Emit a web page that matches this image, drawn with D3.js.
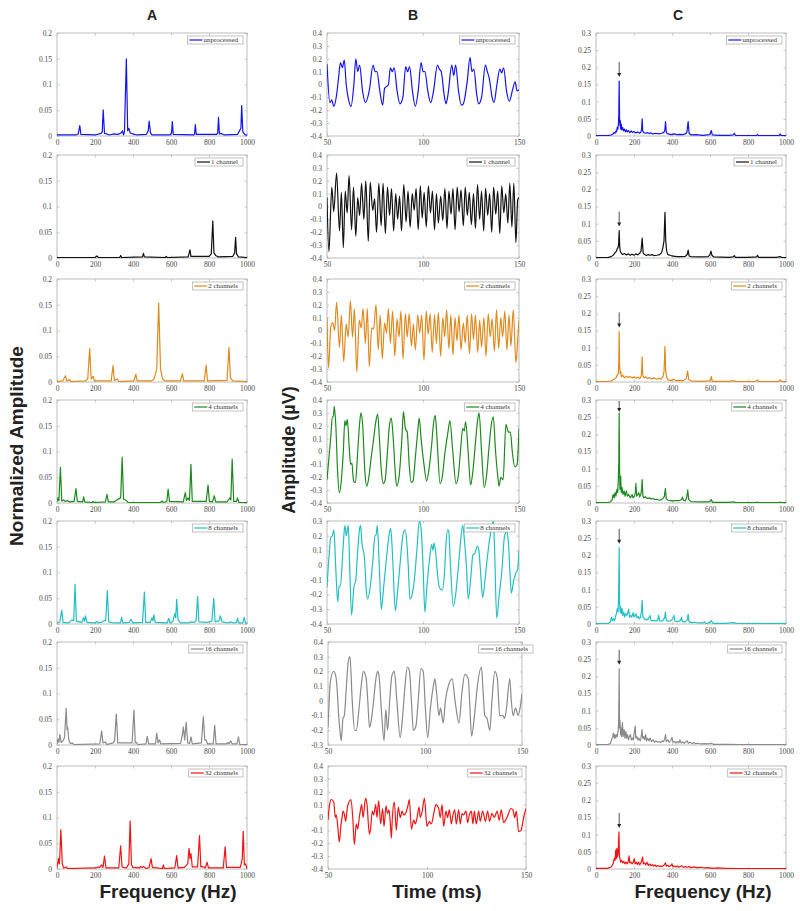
<!DOCTYPE html>
<html><head><meta charset="utf-8">
<script src="https://cdn.jsdelivr.net/npm/d3@7"></script>
<style>body{margin:0;background:#fff}svg{display:block}</style>
</head><body>
<script>
// ---------------- DATA ----------------
const columnTitles = ["A","B","C"];
const seriesLabels = ["unprocessed","1 channel","2 channels","4 channels","8 channels","16 channels","32 channels"];
const seriesColors = ["#1414f0","#111111","#e0891c","#1c8a1c","#22bfc4","#8a8a8a","#f01414"];

const freqTicks = [0,200,400,600,800,1000];
const timeTicks = [50,100,150];
const ampTicksA = [0,0.05,0.1,0.15,0.2];
const ampTicksC = [0,0.05,0.1,0.15,0.2,0.25,0.3];
const timeYDomains = [[-0.4,0.4],[-0.4,0.4],[-0.4,0.4],[-0.4,0.4],[-0.4,0.3],[-0.3,0.4],[-0.4,0.4]];

// Column A: spectra [Hz, normalized amplitude]
const specA_unprocessed = [[0,0.002],[100,0.002],[112,0.004],[120,0.02],[126,0.003],[200,0.002],[232,0.005],[238,0.008],[243,0.051],[250,0.005],[262,0.004],[275,0.002],[300,0.004],[320,0.003],[338,0.006],[345,0.01],[350,0.002],[355,0.008],[365,0.15],[372,0.01],[378,0.015],[385,0.006],[400,0.004],[420,0.002],[470,0.003],[480,0.01],[485,0.029],[492,0.006],[500,0.002],[595,0.002],[603,0.006],[607,0.028],[612,0.003],[720,0.002],[724,0.004],[728,0.022],[733,0.003],[840,0.003],[846,0.006],[850,0.036],[855,0.004],[865,0.005],[880,0.002],[950,0.003],[960,0.01],[968,0.015],[972,0.059],[978,0.008],[990,0.002],[1000,0.002]];
const specA_1ch = [[0,0.001],[200,0.001],[210,0.004],[218,0.001],[330,0.001],[335,0.005],[340,0.001],[450,0.002],[455,0.009],[460,0.002],[570,0.001],[575,0.003],[580,0.001],[690,0.002],[696,0.01],[700,0.016],[705,0.003],[800,0.003],[812,0.008],[820,0.072],[826,0.01],[835,0.005],[850,0.002],[925,0.003],[935,0.01],[940,0.04],[945,0.008],[955,0.002],[1000,0.001]];
const specA_2ch = [[0,0.001],[30,0.002],[45,0.012],[52,0.002],[65,0.005],[72,0.001],[150,0.002],[162,0.006],[172,0.065],[180,0.006],[190,0.011],[197,0.002],[285,0.002],[295,0.032],[302,0.003],[318,0.006],[325,0.001],[405,0.002],[415,0.015],[422,0.002],[495,0.002],[510,0.005],[525,0.025],[535,0.153],[545,0.025],[556,0.006],[570,0.002],[650,0.002],[660,0.016],[667,0.002],[775,0.002],[785,0.033],[792,0.002],[895,0.003],[905,0.067],[913,0.008],[925,0.002],[1000,0.001]];
const specA_4ch = [[0,0.003],[5,0.01],[10,0.004],[18,0.069],[25,0.004],[35,0.006],[45,0.003],[55,0.005],[65,0.002],[90,0.003],[100,0.028],[107,0.003],[135,0.002],[140,0.012],[146,0.002],[185,0.001],[190,0.003],[195,0.001],[255,0.002],[263,0.017],[270,0.002],[300,0.002],[315,0.006],[325,0.008],[335,0.01],[343,0.089],[350,0.008],[360,0.006],[375,0.001],[545,0.001],[552,0.004],[560,0.001],[578,0.003],[585,0.027],[592,0.003],[665,0.002],[675,0.02],[682,0.005],[690,0.01],[697,0.005],[705,0.075],[712,0.003],[785,0.003],[795,0.035],[802,0.003],[818,0.002],[828,0.014],[835,0.002],[895,0.002],[910,0.01],[915,0.006],[922,0.085],[930,0.003],[945,0.003],[950,0.01],[958,0.001],[1000,0.001]];
const specA_8ch = [[0,0.002],[15,0.004],[25,0.027],[32,0.003],[60,0.002],[80,0.008],[88,0.006],[95,0.077],[102,0.005],[130,0.003],[140,0.012],[145,0.005],[150,0.016],[158,0.003],[200,0.002],[210,0.005],[218,0.002],[240,0.004],[248,0.007],[256,0.006],[265,0.065],[272,0.004],[300,0.002],[335,0.002],[340,0.013],[347,0.002],[380,0.003],[390,0.009],[398,0.002],[450,0.003],[460,0.062],[467,0.003],[490,0.003],[500,0.012],[505,0.006],[510,0.018],[517,0.003],[580,0.002],[588,0.011],[595,0.002],[610,0.005],[620,0.02],[625,0.012],[630,0.048],[637,0.008],[650,0.002],[695,0.002],[700,0.004],[720,0.003],[732,0.006],[740,0.054],[747,0.004],[790,0.003],[800,0.004],[815,0.005],[825,0.05],[832,0.004],[852,0.006],[860,0.016],[868,0.004],[905,0.002],[910,0.004],[930,0.002],[945,0.003],[950,0.011],[957,0.002],[978,0.002],[985,0.013],[992,0.002],[1000,0.001]];
const specA_16ch = [[0,0.003],[5,0.012],[10,0.005],[15,0.02],[22,0.005],[32,0.008],[40,0.015],[48,0.071],[53,0.03],[56,0.035],[62,0.01],[70,0.003],[80,0.004],[90,0.001],[225,0.002],[235,0.027],[242,0.004],[255,0.006],[262,0.001],[295,0.004],[303,0.008],[312,0.06],[320,0.004],[395,0.004],[405,0.068],[412,0.004],[418,0.005],[425,0.001],[468,0.002],[475,0.017],[482,0.002],[518,0.002],[525,0.023],[532,0.004],[540,0.01],[547,0.002],[650,0.003],[660,0.02],[665,0.035],[672,0.01],[680,0.044],[688,0.004],[698,0.003],[705,0.016],[712,0.002],[760,0.004],[770,0.055],[778,0.01],[785,0.01],[792,0.002],[822,0.002],[830,0.038],[837,0.002],[890,0.002],[900,0.005],[905,0.002],[915,0.008],[922,0.002],[948,0.002],[955,0.016],[962,0.001],[1000,0.001]];
const specA_32ch = [[0,0.003],[8,0.02],[12,0.01],[15,0.025],[20,0.076],[24,0.045],[28,0.01],[35,0.002],[48,0.004],[55,0.001],[205,0.002],[215,0.004],[225,0.003],[235,0.008],[242,0.003],[250,0.025],[258,0.002],[325,0.002],[335,0.045],[342,0.005],[350,0.003],[365,0.002],[378,0.01],[385,0.093],[392,0.008],[400,0.003],[435,0.002],[440,0.005],[450,0.003],[455,0.005],[470,0.001],[485,0.003],[495,0.02],[502,0.003],[555,0.001],[560,0.008],[565,0.001],[620,0.002],[630,0.026],[637,0.002],[670,0.003],[688,0.01],[695,0.04],[700,0.02],[705,0.03],[712,0.004],[740,0.004],[750,0.065],[757,0.004],[765,0.005],[780,0.002],[790,0.013],[797,0.002],[875,0.002],[885,0.043],[892,0.003],[965,0.003],[975,0.02],[980,0.073],[986,0.008],[992,0.01],[1000,0.001]];

// Column B: time signals [ms, µV]
const timeB_unprocessed = [[50,0.16],[51.5,-0.14],[52.5,-0.12],[53.5,-0.17],[55,-0.08],[56,0.05],[57,0.17],[58,0.13],[59,0.19],[60,0.0],[61,-0.1],[62.5,-0.17],[64,0.0],[65,0.2],[66,0.1],[67,0.15],[68.5,-0.05],[70,-0.14],[72,-0.05],[74,0.15],[75,0.1],[76,0.1],[77.5,-0.05],[79,-0.16],[80,-0.03],[82,0.0],[83,0.13],[84,0.1],[85,0.13],[86.5,-0.05],[88,-0.15],[89.5,-0.1],[91,0.14],[92,0.1],[93,0.14],[94.5,-0.05],[96,-0.17],[97.5,-0.05],[99,0.17],[100,0.1],[101,0.1],[102.5,-0.05],[104,-0.14],[105.5,-0.05],[107.5,0.15],[108.5,0.12],[109.5,0.1],[111,-0.08],[112,-0.15],[113,-0.08],[115,0.15],[116,0.07],[117,0.15],[118.5,-0.05],[120,-0.16],[121,-0.15],[123,0.02],[124.5,0.21],[125.5,0.1],[126.5,0.12],[128,-0.08],[129,-0.15],[130.5,-0.1],[132.5,0.15],[133.5,0.1],[134.5,0.05],[136,-0.1],[137,-0.14],[138.5,0.0],[140,0.12],[141,0.09],[142,0.13],[143.5,-0.05],[145,-0.13],[146.5,-0.05],[148,0.02],[149,-0.05],[150,-0.04]];
const timeB_1ch = [[50,0.07],[51,-0.35],[52.5,0.15],[53.5,-0.04],[55,0.26],[56.5,-0.19],[57.5,0.11],[58.5,-0.32],[59.5,0.12],[60.5,-0.05],[61.5,0.24],[62.8,-0.18],[63.8,0.15],[65,-0.23],[66,0.07],[67,-0.07],[68,0.18],[69.2,-0.1],[70.2,0.2],[71.5,-0.27],[72.5,0.19],[73.8,-0.03],[74.8,0.06],[75.8,-0.2],[77,0.18],[78.2,-0.15],[79.2,0.18],[80.4,-0.21],[81.5,0.15],[82.6,-0.07],[83.6,0.14],[84.7,-0.19],[85.8,0.1],[86.8,-0.1],[87.8,0.08],[88.8,-0.19],[90,0.17],[91.2,-0.12],[92.2,0.12],[93.3,-0.16],[94.4,0.1],[95.4,-0.03],[96.4,0.14],[97.5,-0.18],[98.6,0.16],[99.6,-0.09],[100.6,0.11],[101.7,-0.16],[102.8,0.16],[103.9,-0.05],[104.9,0.12],[106,-0.18],[107,0.1],[108,-0.13],[109.2,0.08],[110.3,-0.11],[111.4,0.14],[112.5,-0.17],[113.5,0.12],[114.6,-0.06],[115.6,0.14],[116.7,-0.18],[117.8,0.15],[118.8,-0.04],[119.8,0.13],[121,-0.15],[122,0.15],[123.1,-0.07],[124.1,0.11],[125.2,-0.14],[126.3,0.1],[127.3,-0.17],[128.4,0.17],[129.5,-0.1],[130.5,0.12],[131.6,-0.19],[132.6,0.14],[133.7,-0.07],[134.7,0.1],[135.8,-0.2],[136.8,0.15],[137.9,-0.06],[138.9,0.12],[140,-0.21],[141,0.16],[142.1,-0.05],[143.1,0.1],[144.2,-0.13],[145.2,0.18],[146.3,-0.16],[147.3,0.18],[148.4,-0.28],[149.3,0.05],[150,0.07]];
const timeB_2ch = [[50,0.1],[50.8,-0.29],[52,0.03],[53,0.06],[54,0.0],[55,0.22],[56.5,-0.13],[57.5,0.12],[58.7,-0.24],[60,0.05],[61,-0.05],[62.2,0.23],[63.3,-0.05],[64.3,0.17],[65.5,-0.32],[66.8,0.08],[67.8,0.02],[68.8,0.17],[70,-0.1],[71,0.17],[72,-0.28],[73.3,0.02],[74.3,0.01],[75.5,0.2],[76.7,-0.15],[77.7,0.12],[78.8,-0.22],[80,0.06],[81,-0.02],[82,0.17],[83,-0.1],[84.2,0.15],[85.3,-0.2],[86.5,0.09],[87.5,-0.05],[88.5,0.15],[89.6,-0.22],[90.8,0.13],[91.8,-0.05],[92.8,0.13],[94,-0.12],[95,0.05],[96,-0.15],[97.3,0.12],[98.3,-0.02],[99.3,0.12],[100.5,-0.23],[101.7,0.15],[102.7,-0.03],[103.7,0.13],[104.8,-0.17],[106,0.12],[107,-0.1],[108,0.14],[109.2,-0.2],[110.3,0.1],[111.3,-0.05],[112.3,0.16],[113.5,-0.14],[114.5,0.12],[115.6,-0.19],[116.7,0.1],[117.7,-0.08],[118.7,0.12],[119.8,-0.15],[121,0.06],[122,-0.1],[123,0.12],[124.2,-0.18],[125.3,0.13],[126.3,-0.07],[127.3,0.12],[128.5,-0.17],[129.5,0.08],[130.5,-0.13],[131.7,0.1],[132.8,-0.2],[134,0.13],[135,-0.05],[136,0.09],[137.2,-0.16],[138.3,0.16],[139.4,-0.14],[140.5,0.1],[141.5,-0.05],[142.6,0.15],[143.7,-0.15],[144.8,0.12],[145.8,-0.12],[147,0.16],[148.4,-0.25],[149.4,-0.05],[150,0.08]];
const timeB_4ch = [[50,-0.22],[51,-0.05],[52,0.12],[52.8,0.27],[53.3,0.27],[53.8,0.35],[54.6,0.2],[55.5,-0.15],[56.4,-0.32],[57.5,-0.22],[58.5,0.0],[59.3,0.24],[59.9,0.2],[60.6,0.25],[61.5,0.05],[62.3,-0.1],[63,-0.09],[63.6,-0.2],[64.1,-0.24],[64.8,-0.24],[66,0.0],[67,0.22],[67.7,0.3],[68.6,0.2],[69.7,-0.15],[70.7,-0.27],[71.8,-0.2],[73,-0.05],[74.3,0.1],[75.3,0.22],[76.4,0.29],[77.3,0.1],[78.3,-0.15],[79.3,-0.25],[80.3,-0.22],[81.5,0.0],[82.5,0.2],[83.5,0.26],[84.5,0.1],[85.5,-0.15],[86.3,-0.27],[87.5,-0.2],[89,0.1],[89.8,0.31],[90.8,0.18],[91.8,0.15],[92.8,-0.1],[93.8,-0.24],[94.8,-0.23],[96,-0.05],[97.2,0.15],[98,0.26],[99,0.1],[100.5,-0.1],[101.9,-0.23],[103,-0.15],[104.5,0.05],[105.5,0.22],[106.4,0.28],[107.3,0.1],[108.9,-0.25],[110,-0.2],[111.5,0.0],[113,0.15],[114,0.24],[115.5,0.0],[117.2,-0.25],[118.3,-0.2],[119.5,0.0],[120.7,0.18],[121.5,0.16],[122.2,0.23],[123.5,0.0],[124.8,-0.26],[126,-0.15],[127.5,0.1],[128.5,0.25],[129.2,0.3],[130.5,0.0],[131.9,-0.28],[133,-0.2],[134.5,0.05],[135.5,0.2],[136.6,0.27],[137.8,0.0],[139,-0.2],[139.6,-0.27],[140.6,-0.2],[141.7,-0.22],[143.2,0.21],[144.5,0.15],[145.5,0.15],[146.5,0.0],[147.8,-0.12],[149,-0.1],[150,0.18]];
const timeB_8ch = [[50,-0.15],[51,0.05],[52,0.19],[52.8,0.2],[53.6,0.24],[54.5,0.0],[55.6,-0.25],[56.3,-0.14],[57,-0.14],[58.3,0.1],[59.3,0.27],[60,0.2],[61.1,0.27],[61.8,0.0],[62.8,-0.34],[64,-0.15],[65,-0.1],[66,0.1],[67,0.25],[67.5,0.27],[68.2,0.15],[69.5,0.05],[70.5,-0.18],[71.2,-0.23],[72.5,-0.15],[74,0.05],[75,0.2],[75.5,0.2],[76.2,0.27],[77.2,0.0],[78.3,-0.3],[79.5,-0.15],[81,0.05],[82.5,0.22],[83.2,0.25],[84.2,0.05],[85.6,-0.31],[86.6,-0.2],[88,0.0],[89.5,0.2],[90.6,0.24],[91.6,0.15],[92.3,0.0],[93.2,-0.23],[94.3,-0.2],[95.5,-0.1],[96.8,0.1],[98.1,0.3],[99,0.25],[100,0.0],[101,-0.32],[102,-0.15],[103.5,0.05],[104.5,0.14],[105.2,0.1],[105.7,0.15],[106.5,0.1],[107.5,-0.05],[108.5,-0.15],[110,-0.17],[111.2,-0.05],[112,0.15],[112.8,0.24],[113.4,0.23],[114.3,0.0],[115.8,-0.28],[117,-0.2],[118.5,0.0],[119.5,0.15],[120.7,0.27],[121.7,0.15],[122.6,0.0],[123.6,-0.23],[124.8,-0.1],[126,0.07],[127,0.08],[128.3,0.13],[129,0.11],[130,-0.05],[130.5,-0.15],[131.1,-0.22],[132.3,-0.1],[133.5,0.05],[135,0.2],[136.7,0.3],[137.3,0.1],[138.4,-0.36],[139.7,-0.2],[141,-0.05],[142.5,0.2],[143.6,0.23],[144.5,0.15],[145.3,-0.05],[146,-0.19],[147.3,-0.1],[148.5,-0.05],[149.3,-0.03],[150,0.1]];
const timeB_16ch = [[50,-0.18],[50.6,0.0],[51.2,0.13],[52.9,0.2],[54,0.17],[54.6,0.1],[55.5,-0.1],[56.3,-0.22],[56.8,-0.27],[57.7,-0.12],[58.4,-0.1],[59.5,0.1],[60.3,0.25],[61.3,0.3],[62.5,0.0],[63.7,-0.2],[64.6,-0.2],[66,-0.05],[67.1,0.1],[68.3,0.2],[69.7,0.15],[70.5,0.0],[71.4,-0.18],[72.1,-0.15],[73.5,0.0],[74.7,0.15],[75.5,0.2],[76.2,0.18],[77.7,-0.1],[78.9,-0.27],[79.8,-0.06],[80.7,-0.2],[81.8,0.0],[82.9,0.17],[84.2,0.2],[85.5,0.0],[87.2,-0.25],[88.5,-0.1],[89.7,0.1],[90.9,0.23],[92,0.2],[93,0.0],[94,-0.2],[95.2,-0.18],[96.5,0.0],[97.9,0.22],[99.1,0.2],[100.2,-0.05],[101.4,-0.25],[102.8,-0.05],[104.3,0.1],[105.1,0.15],[106,0.05],[107.2,-0.1],[108,-0.05],[109.4,-0.15],[110.5,0.0],[112,0.1],[114,0.15],[115.5,0.0],[117.5,-0.15],[119,0.05],[120.5,0.18],[122.3,0.15],[123,0.0],[124,-0.24],[125.5,-0.1],[127,0.1],[129.1,0.23],[130,0.05],[130.8,-0.1],[132,-0.12],[133.4,-0.2],[134.5,0.0],[136,0.2],[137.3,0.15],[138.5,-0.1],[140.2,-0.1],[141,-0.12],[142,-0.05],[143.7,0.15],[144.5,0.0],[145.4,-0.1],[146.7,-0.05],[148,-0.1],[149,-0.05],[150,0.05]];
const timeB_32ch = [[50,-0.02],[50.8,0.1],[51.7,0.14],[52.9,0.12],[53.7,0.0],[54.2,0.02],[55.1,-0.1],[55.7,-0.19],[56.6,-0.05],[57.1,0.0],[57.6,0.05],[58.2,0.03],[58.9,-0.03],[59.8,0.08],[60.6,0.12],[61.6,0.14],[62.5,0.0],[63.3,-0.21],[64.3,-0.05],[65,-0.09],[65.8,0.0],[66.3,0.05],[67,0.1],[67.7,0.0],[69,0.15],[69.7,0.1],[70.9,-0.13],[71.4,-0.1],[72.4,0.05],[73.1,0.02],[74.1,0.1],[74.7,0.0],[75.6,0.13],[76.6,-0.05],[77.6,0.07],[78.3,-0.07],[79.3,0.09],[80.1,0.03],[80.8,0.06],[81.5,-0.05],[82,-0.16],[82.5,0.0],[83.5,0.12],[84.5,-0.1],[85.5,0.08],[86.5,0.0],[87.4,0.05],[88.2,0.02],[89.1,0.03],[90.2,0.08],[91.1,0.14],[92.1,-0.09],[93.3,-0.02],[94.1,-0.05],[95,0.0],[96,0.08],[96.6,0.0],[97.6,0.05],[98.7,0.15],[100,-0.07],[101.2,-0.03],[102.2,-0.05],[103.4,0.03],[104.5,0.1],[105.9,0.07],[106.7,0.0],[107.6,0.1],[108.4,-0.07],[109.6,0.05],[110.4,0.0],[111.3,0.06],[112.3,-0.05],[113.1,0.02],[114,0.06],[114.8,-0.05],[116,0.06],[116.8,-0.05],[117.7,0.03],[118.5,0.02],[119.7,0.05],[120.5,-0.04],[121.4,0.02],[122.4,0.05],[123.2,-0.05],[123.9,0.05],[124.9,-0.05],[126.1,0.05],[126.9,-0.03],[128.1,0.05],[129.5,-0.03],[130.6,0.05],[131.6,-0.03],[132.8,0.03],[134,0.0],[135.4,0.05],[136.5,-0.02],[137.5,0.06],[138.7,-0.04],[140.4,0.0],[142.4,0.07],[143.4,0.06],[144.3,0.0],[145.1,0.05],[146.3,-0.11],[147.5,-0.1],[148.8,0.0],[150,0.07]];

// Column C: spectra [Hz, normalized amplitude]
const specC_unprocessed = [[0,0.001],[60,0.001],[80,0.003],[90,0.006],[95,0.01],[100,0.008],[105,0.015],[108,0.012],[112,0.025],[115,0.02],[118,0.035],[120,0.06],[122,0.16],[124,0.05],[126,0.03],[128,0.045],[130,0.02],[133,0.035],[136,0.018],[140,0.025],[145,0.015],[150,0.02],[155,0.012],[160,0.018],[165,0.012],[170,0.016],[178,0.01],[185,0.015],[192,0.01],[200,0.013],[210,0.009],[220,0.012],[230,0.008],[237,0.012],[240,0.02],[243,0.05],[246,0.015],[250,0.01],[260,0.008],[270,0.01],[280,0.007],[290,0.009],[300,0.006],[315,0.008],[330,0.006],[345,0.008],[355,0.01],[362,0.015],[366,0.042],[370,0.01],[380,0.006],[395,0.004],[410,0.006],[425,0.004],[440,0.005],[455,0.004],[470,0.006],[478,0.01],[485,0.042],[490,0.008],[500,0.003],[530,0.004],[560,0.002],[590,0.003],[600,0.006],[607,0.016],[612,0.003],[650,0.002],[700,0.002],[722,0.003],[728,0.008],[734,0.002],[800,0.001],[845,0.002],[850,0.005],[855,0.001],[965,0.002],[970,0.006],[975,0.001],[1000,0.001]];
const specC_1ch = [[0,0.001],[60,0.001],[80,0.004],[90,0.008],[100,0.015],[108,0.02],[112,0.028],[116,0.03],[119,0.04],[122,0.08],[125,0.03],[128,0.02],[132,0.015],[140,0.01],[150,0.013],[160,0.009],[170,0.012],[180,0.008],[190,0.011],[200,0.008],[210,0.012],[220,0.009],[230,0.014],[237,0.02],[243,0.058],[248,0.015],[255,0.01],[265,0.007],[275,0.01],[285,0.008],[295,0.01],[305,0.007],[320,0.008],[335,0.01],[345,0.015],[352,0.03],[358,0.05],[363,0.133],[367,0.05],[372,0.02],[378,0.01],[390,0.008],[400,0.006],[415,0.005],[430,0.004],[450,0.004],[470,0.005],[480,0.01],[485,0.023],[490,0.006],[500,0.004],[550,0.003],[590,0.004],[600,0.01],[605,0.02],[610,0.008],[620,0.003],[700,0.002],[722,0.003],[728,0.007],[734,0.002],[800,0.002],[845,0.003],[850,0.008],[855,0.002],[950,0.002],[970,0.004],[980,0.001],[1000,0.001]];
const specC_2ch = [[0,0.001],[60,0.001],[80,0.003],[95,0.008],[105,0.012],[112,0.02],[117,0.025],[120,0.06],[122,0.147],[124,0.05],[127,0.025],[130,0.03],[134,0.015],[140,0.02],[150,0.012],[160,0.017],[170,0.013],[180,0.016],[190,0.012],[200,0.015],[210,0.011],[220,0.014],[230,0.01],[237,0.015],[240,0.03],[243,0.073],[246,0.02],[252,0.012],[262,0.015],[272,0.01],[282,0.013],[292,0.009],[305,0.012],[318,0.008],[330,0.011],[342,0.008],[352,0.015],[358,0.03],[363,0.103],[367,0.03],[373,0.012],[380,0.006],[395,0.004],[410,0.008],[420,0.004],[440,0.005],[460,0.004],[475,0.01],[482,0.032],[488,0.008],[500,0.003],[550,0.002],[595,0.003],[602,0.006],[607,0.016],[612,0.002],[700,0.002],[720,0.003],[728,0.004],[735,0.001],[840,0.002],[850,0.006],[858,0.001],[960,0.002],[970,0.006],[978,0.001],[1000,0.001]];
const specC_4ch = [[0,0.001],[60,0.001],[75,0.003],[85,0.01],[90,0.025],[95,0.015],[100,0.03],[105,0.02],[110,0.04],[114,0.03],[117,0.06],[120,0.12],[122,0.262],[124,0.1],[126,0.04],[128,0.06],[130,0.078],[133,0.03],[137,0.045],[142,0.025],[148,0.035],[153,0.02],[160,0.035],[165,0.02],[172,0.025],[180,0.015],[186,0.02],[190,0.025],[195,0.015],[202,0.02],[207,0.03],[210,0.057],[214,0.02],[220,0.025],[225,0.03],[230,0.018],[236,0.025],[240,0.04],[243,0.068],[247,0.02],[252,0.015],[260,0.018],[270,0.013],[280,0.015],[290,0.012],[300,0.013],[310,0.01],[320,0.011],[335,0.008],[345,0.01],[355,0.015],[360,0.02],[365,0.042],[370,0.012],[380,0.008],[400,0.006],[420,0.007],[440,0.007],[450,0.01],[455,0.017],[460,0.008],[470,0.006],[477,0.015],[483,0.038],[488,0.01],[500,0.004],[550,0.003],[590,0.003],[600,0.005],[607,0.01],[613,0.002],[700,0.002],[728,0.003],[735,0.001],[845,0.002],[850,0.003],[855,0.001],[965,0.002],[970,0.003],[975,0.001],[1000,0.001]];
const specC_8ch = [[0,0.001],[60,0.001],[75,0.005],[82,0.02],[86,0.01],[92,0.015],[98,0.01],[104,0.025],[108,0.03],[112,0.045],[116,0.035],[119,0.08],[122,0.222],[124,0.06],[127,0.035],[130,0.05],[133,0.03],[137,0.045],[141,0.025],[146,0.035],[150,0.02],[156,0.03],[162,0.025],[168,0.035],[172,0.043],[177,0.02],[183,0.025],[188,0.02],[195,0.033],[200,0.02],[205,0.025],[210,0.03],[215,0.018],[222,0.022],[228,0.015],[234,0.02],[240,0.04],[243,0.069],[247,0.02],[255,0.015],[265,0.012],[275,0.015],[280,0.02],[285,0.025],[290,0.01],[300,0.01],[315,0.009],[325,0.012],[330,0.025],[335,0.009],[345,0.008],[355,0.012],[362,0.02],[365,0.035],[370,0.01],[385,0.008],[400,0.012],[410,0.025],[415,0.008],[430,0.007],[445,0.01],[450,0.02],[455,0.006],[470,0.006],[480,0.012],[485,0.028],[490,0.006],[505,0.004],[520,0.005],[535,0.003],[560,0.003],[570,0.006],[578,0.002],[595,0.003],[607,0.01],[615,0.002],[680,0.002],[728,0.004],[735,0.002],[800,0.001],[850,0.002],[900,0.001],[970,0.002],[1000,0.001]];
const specC_16ch = [[0,0.001],[60,0.001],[75,0.004],[82,0.015],[88,0.025],[92,0.035],[96,0.02],[100,0.03],[104,0.02],[108,0.03],[112,0.025],[116,0.04],[119,0.06],[122,0.222],[124,0.05],[126,0.072],[129,0.03],[132,0.05],[135,0.025],[139,0.065],[143,0.025],[148,0.045],[152,0.02],[157,0.04],[161,0.02],[166,0.03],[171,0.015],[176,0.025],[181,0.03],[186,0.015],[192,0.02],[197,0.015],[202,0.04],[206,0.055],[210,0.02],[215,0.025],[220,0.015],[226,0.02],[232,0.012],[237,0.02],[242,0.045],[246,0.02],[251,0.025],[256,0.015],[261,0.03],[266,0.012],[272,0.02],[278,0.012],[285,0.02],[292,0.01],[300,0.015],[308,0.008],[316,0.012],[324,0.008],[332,0.01],[340,0.007],[348,0.012],[356,0.01],[362,0.02],[366,0.03],[370,0.01],[378,0.015],[385,0.008],[392,0.012],[400,0.022],[405,0.008],[412,0.01],[420,0.006],[428,0.01],[436,0.006],[442,0.015],[448,0.006],[456,0.009],[464,0.005],[472,0.009],[480,0.012],[486,0.005],[495,0.008],[505,0.004],[515,0.007],[525,0.004],[535,0.005],[550,0.003],[570,0.004],[590,0.003],[605,0.005],[620,0.002],[660,0.002],[700,0.002],[760,0.001],[850,0.001],[1000,0.001]];
const specC_32ch = [[0,0.002],[60,0.002],[80,0.006],[90,0.015],[96,0.03],[100,0.025],[104,0.055],[107,0.03],[110,0.06],[113,0.035],[116,0.045],[118,0.065],[121,0.108],[123,0.04],[126,0.03],[130,0.02],[135,0.025],[140,0.018],[146,0.022],[152,0.015],[158,0.02],[164,0.015],[170,0.022],[174,0.038],[178,0.018],[184,0.02],[190,0.015],[196,0.02],[201,0.03],[206,0.015],[212,0.02],[218,0.013],[224,0.02],[230,0.012],[236,0.018],[241,0.025],[245,0.035],[249,0.015],[255,0.018],[262,0.012],[268,0.02],[275,0.01],[282,0.015],[290,0.009],[297,0.013],[304,0.008],[311,0.012],[318,0.007],[325,0.01],[333,0.007],[340,0.009],[348,0.007],[356,0.01],[362,0.015],[366,0.018],[370,0.008],[378,0.011],[386,0.007],[394,0.01],[400,0.015],[405,0.007],[412,0.009],[420,0.006],[428,0.009],[436,0.005],[444,0.008],[452,0.009],[460,0.005],[470,0.007],[480,0.005],[490,0.007],[500,0.004],[515,0.006],[530,0.004],[550,0.005],[570,0.003],[590,0.004],[610,0.002],[640,0.003],[680,0.002],[750,0.001],[1000,0.001]];

const specA = [specA_unprocessed,specA_1ch,specA_2ch,specA_4ch,specA_8ch,specA_16ch,specA_32ch];
const timeB = [timeB_unprocessed,timeB_1ch,timeB_2ch,timeB_4ch,timeB_8ch,timeB_16ch,timeB_32ch];
const specC = [specC_unprocessed,specC_1ch,specC_2ch,specC_4ch,specC_8ch,specC_16ch,specC_32ch];
// arrows mark the ~122 Hz peak in column C
const arrowFreq = 122;

// ---------------- LAYOUT ----------------
const W = 800, H = 911;
const rowTops = [33,155,279,400,521,642,766];
const panelH = 103;
const colXA = [57,247], colXC = [596,786];
const colXB = [[327,519],[327,519],[327,519],[327,519],[327,519],[328,522],[328,526]];
const legendShiftB = [0,0,0,0,0,15,0];

const svg = d3.select("body").append("svg").attr("width",W).attr("height",H)
  .style("font-family","'Liberation Serif','Times New Roman',serif");

const fmt = d => String(+d.toFixed(2));
const frameColor = "#b5b5b5";
let clipId = 0;

function panel(opt){
  const {x0,x1,top,xDomain,yDomain,xTicks,yTicks,data,color,label,curve,legendShift,arrow} = opt;
  const x = d3.scaleLinear().domain(xDomain).range([x0,x1]);
  const y = d3.scaleLinear().domain(yDomain).range([top+panelH,top]);
  const g = svg.append("g");
  const id = "clip"+(clipId++);
  g.append("clipPath").attr("id",id).append("rect")
    .attr("x",x0).attr("y",top).attr("width",x1-x0).attr("height",panelH);

  const styleAxis = (sel)=>{
    sel.select(".domain").remove();
    sel.selectAll(".tick line").attr("stroke",frameColor).attr("stroke-width",0.7);
    sel.selectAll(".tick text").attr("fill","#4a4a4a").style("font-size","7.5px")
      .style("font-family","'Liberation Serif','Times New Roman',serif");
  };
  g.append("g").attr("transform",`translate(0,${top+panelH})`)
    .call(d3.axisBottom(x).tickValues(xTicks).tickFormat(fmt).tickSize(-2.5).tickPadding(4)).call(styleAxis);
  g.append("g").attr("transform",`translate(0,${top})`)
    .call(d3.axisTop(x).tickValues(xTicks).tickFormat("").tickSize(-2.5)).call(styleAxis);
  g.append("g").attr("transform",`translate(${x0},0)`)
    .call(d3.axisLeft(y).tickValues(yTicks).tickFormat(fmt).tickSize(-2.5).tickPadding(5)).call(styleAxis);
  g.append("g").attr("transform",`translate(${x1},0)`)
    .call(d3.axisRight(y).tickValues(yTicks).tickFormat("").tickSize(-2.5)).call(styleAxis);

  g.append("rect").attr("x",x0).attr("y",top).attr("width",x1-x0).attr("height",panelH)
    .attr("fill","none").attr("stroke",frameColor).attr("stroke-width",0.9);

  const line = d3.line().x(d=>x(d[0])).y(d=>y(d[1])).curve(curve);
  g.append("path").datum(data).attr("d",line).attr("fill","none")
    .attr("stroke",color).attr("stroke-width",1.2).attr("stroke-linejoin","round")
    .attr("clip-path",`url(#${id})`);

  if(arrow){
    const peak = d3.max(data.filter(d=>Math.abs(d[0]-arrowFreq)<4), d=>d[1]);
    const ax = x(arrowFreq), tip = Math.max(y(peak)-4, top+12);
    g.append("line").attr("x1",ax).attr("x2",ax).attr("y1",Math.max(tip-15, top+1)).attr("y2",tip-3)
      .attr("stroke","#222").attr("stroke-width",0.8);
    g.append("path").attr("d",`M${ax-2},${tip-4}L${ax+2},${tip-4}L${ax},${tip}Z`).attr("fill","#222");
  }

  // legend
  const lg = g.append("g");
  const txt = lg.append("text").text(label).style("font-size","7px").attr("fill","#333");
  const tw = txt.node().getComputedTextLength();
  const bw = tw + 21, bh = 8;
  const bx = x1 - 4 - bw + (legendShift||0), by = top + 3;
  lg.insert("rect","text").attr("x",bx).attr("y",by).attr("width",bw).attr("height",bh)
    .attr("fill","#fff").attr("stroke","#9a9a9a").attr("stroke-width",0.6);
  lg.append("line").attr("x1",bx+2).attr("x2",bx+15).attr("y1",by+bh/2).attr("y2",by+bh/2)
    .attr("stroke",color).attr("stroke-width",1.2);
  txt.attr("x",bx+16).attr("y",by+6.3);
}

for(let i=0;i<7;i++){
  const top = rowTops[i];
  panel({x0:colXA[0],x1:colXA[1],top,xDomain:[0,1000],yDomain:[0,0.2],xTicks:freqTicks,yTicks:ampTicksA,
    data:specA[i],color:seriesColors[i],label:seriesLabels[i],curve:d3.curveLinear});
  const yd = timeYDomains[i];
  const yt = d3.range(Math.round(yd[0]*10),Math.round(yd[1]*10)+1).map(v=>v/10);
  panel({x0:colXB[i][0],x1:colXB[i][1],top,xDomain:[50,150],yDomain:yd,xTicks:timeTicks,yTicks:yt,
    data:timeB[i],color:seriesColors[i],label:seriesLabels[i],curve:d3.curveMonotoneX,legendShift:legendShiftB[i]});
  panel({x0:colXC[0],x1:colXC[1],top,xDomain:[0,1000],yDomain:[0,0.3],xTicks:freqTicks,yTicks:ampTicksC,
    data:specC[i],color:seriesColors[i],label:seriesLabels[i],curve:d3.curveLinear,arrow:true});
}

// titles
const bold = "'Liberation Sans',Arial,Helvetica,sans-serif";
const titleX = [152,413,678];
columnTitles.forEach((t,i)=>{
  svg.append("text").attr("x",titleX[i]).attr("y",20).attr("text-anchor","middle")
    .style("font-family",bold).style("font-weight","bold").style("font-size","14px").attr("fill","#222").text(t);
});
const xTitles = [["Frequency (Hz)",168],["Time (ms)",437],["Frequency (Hz)",703]];
xTitles.forEach(([t,cx])=>{
  svg.append("text").attr("x",cx).attr("y",898).attr("text-anchor","middle")
    .style("font-family",bold).style("font-weight","bold").style("font-size","19px").attr("fill","#222").text(t);
});
svg.append("text").attr("transform","translate(23,446) rotate(-90)").attr("text-anchor","middle")
  .style("font-family",bold).style("font-weight","bold").style("font-size","19px").attr("fill","#222").text("Normalized Amplitude");
svg.append("text").attr("transform","translate(295,450) rotate(-90)").attr("text-anchor","middle")
  .style("font-family",bold).style("font-weight","bold").style("font-size","18px").attr("fill","#222").text("Amplitude (µV)");
</script>
</body></html>
